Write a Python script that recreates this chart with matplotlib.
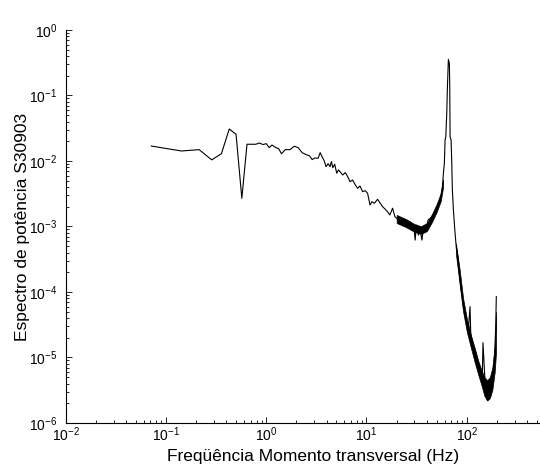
import matplotlib
matplotlib.use("Agg")
import matplotlib.pyplot as plt

plt.rcParams['font.family'] = ['Liberation Sans', 'DejaVu Sans']
plt.rcParams['mathtext.fontset'] = 'custom'
plt.rcParams['mathtext.rm'] = 'Liberation Sans'
plt.rcParams['mathtext.it'] = 'Liberation Sans'

# spectrum (Hz, power)
freq = [0.0714, 0.143, 0.214, 0.286, 0.357, 0.428, 0.500, 0.571, 0.643, 0.714,
        0.785, 0.857, 0.928, 1.00, 1.07, 1.14, 1.25, 1.33, 1.42, 1.55,
        1.73, 1.90, 2.08, 2.28, 2.50, 2.70, 2.87, 3.05, 3.29, 3.45,
        3.61, 3.78, 3.95, 4.14, 4.33, 4.47, 4.61, 4.82, 5.05, 5.25,
        5.45, 5.78, 6.15, 6.49, 6.85, 7.27, 7.74, 8.15, 8.61, 9.14,
        9.73, 10.26, 10.84, 11.35, 11.97, 12.9, 13.6, 14.5, 15.4, 16.2,
        17.1, 18.2, 19.2, 20.1, 21.2, 22.3, 23.2, 24.3, 25.6, 27.1,
        28.4, 29.9, 30.6, 31.5, 33.0, 34.1, 35.7, 37.0, 39.1, 41.2,
        45.5, 51.0, 55.1, 57.2, 58.5, 59.8, 60.8, 61.8, 63.2, 64.1,
        65.6, 67.1, 67.7, 68.2, 69.8, 70.9, 71.9, 73.6, 76.0, 78.8,
        80.6, 83.8, 87.1, 91.8, 97.7, 103.7, 107.8, 109.6, 113.8, 123.0,
        130.4, 143.0, 145.2, 154.4, 160.3, 166.7, 177.4, 184.0, 190.1, 194.5,
        197.2]
power = [0.0169, 0.0142, 0.0149, 0.0104, 0.0129, 0.0308, 0.0255, 0.00269, 0.0180, 0.0180,
         0.0180, 0.0188, 0.0178, 0.0184, 0.0160, 0.0175, 0.0160, 0.0154, 0.0129, 0.0149,
         0.0149, 0.0168, 0.0160, 0.0134, 0.0125, 0.0120, 0.0105, 0.0111, 0.0110, 0.0134,
         0.0116, 0.0101, 0.0082, 0.0091, 0.0082, 0.0098, 0.0079, 0.0089, 0.0065, 0.0073,
         0.00687, 0.00611, 0.00664, 0.00577, 0.00483, 0.00513, 0.00431, 0.00383, 0.00415, 0.00340,
         0.00352, 0.00321, 0.00213, 0.00239, 0.00226, 0.00260, 0.00231, 0.00200, 0.00183, 0.00168,
         0.00150, 0.00190, 0.00141, 0.00133, 0.00118, 0.00133, 0.00109, 0.00126, 0.00105, 0.00118,
         0.00099, 0.00089, 0.00062, 0.00105, 0.00074, 0.00094, 0.00062, 0.00094, 0.00083, 0.00126,
         0.00141, 0.00200, 0.00285, 0.00406, 0.00649, 0.00923, 0.0209, 0.0235, 0.0535, 0.129,
         0.356, 0.31, 0.136, 0.0235, 0.0209, 0.00923, 0.00361, 0.00179, 0.00089, 0.00046,
         0.00039, 0.000217, 0.000121, 6.7e-5, 3.74e-5, 2.63e-5, 5.97e-5, 2.34e-5, 1.64e-5, 1.16e-5,
         7.2e-6, 5.1e-6, 1.68e-5, 2.84e-6, 2.24e-6, 2.84e-6, 3.8e-6, 5.7e-6, 1.16e-5, 2.95e-5,
         8.5e-5]

# thick noisy band (upper / lower envelope) before and after the peak
rise_freq = [20, 25, 30, 35, 40, 45, 50, 55, 58]
rise_hi = [0.00150, 0.00129, 0.00109, 0.00101, 0.00113, 0.00155, 0.00218, 0.00322, 0.0052]
rise_lo = [0.00113, 0.00097, 0.00083, 0.00077, 0.00085, 0.00117, 0.00165, 0.00243, 0.0039]

fall_freq = [78, 85, 92, 100, 110, 120, 130, 140, 150, 160, 170, 180, 190, 196]
fall_hi = [0.00055, 0.00022, 8.0e-5, 4.0e-5, 2.2e-5, 1.4e-5, 9.0e-6, 6.5e-6, 5.0e-6, 4.5e-6, 5.0e-6, 7.0e-6, 1.5e-5, 5.0e-5]
fall_lo = [0.00038, 0.00013, 5.0e-5, 2.5e-5, 1.4e-5, 8.5e-6, 5.5e-6, 3.8e-6, 2.6e-6, 2.2e-6, 2.4e-6, 3.2e-6, 6.0e-6, 1.2e-5]

x_ticks = [1e-2, 1e-1, 1e0, 1e1, 1e2]

fig = plt.figure(figsize=(5.4, 4.75), dpi=100)
# axes run past the right edge of the picture (x up to 10^3)
ax = fig.add_axes([0.1217, 0.1095, 0.9283, 0.8274])

ax.loglog(freq, power, color='black', lw=0.8)
ax.fill_between(rise_freq, rise_lo, rise_hi, color='black', lw=0.5)
ax.fill_between(fall_freq, fall_lo, fall_hi, color='black', lw=0.5)

ax.set_xlim(1e-2, 1e3)
ax.set_ylim(1e-6, 1e0)
ax.set_xticks(x_ticks)
ax.spines['top'].set_visible(False)
ax.spines['right'].set_visible(False)
ax.tick_params(which='both', direction='in', labelsize=10, width=0.6)
ax.tick_params(which='major', length=4)
ax.tick_params(which='minor', length=2.5)
ax.tick_params(axis='x', which='major', pad=2)
ax.tick_params(axis='y', which='major', pad=6)

ax.set_xlabel('Freqüência Momento transversal (Hz)', fontsize=12.5)
ax.set_ylabel('Espectro de potência S30903', fontsize=12.5)
ax.xaxis.set_label_coords(0.493, -0.066)
ax.yaxis.set_label_coords(-0.072, 0.5)

fig.savefig('out.png', dpi=100)
